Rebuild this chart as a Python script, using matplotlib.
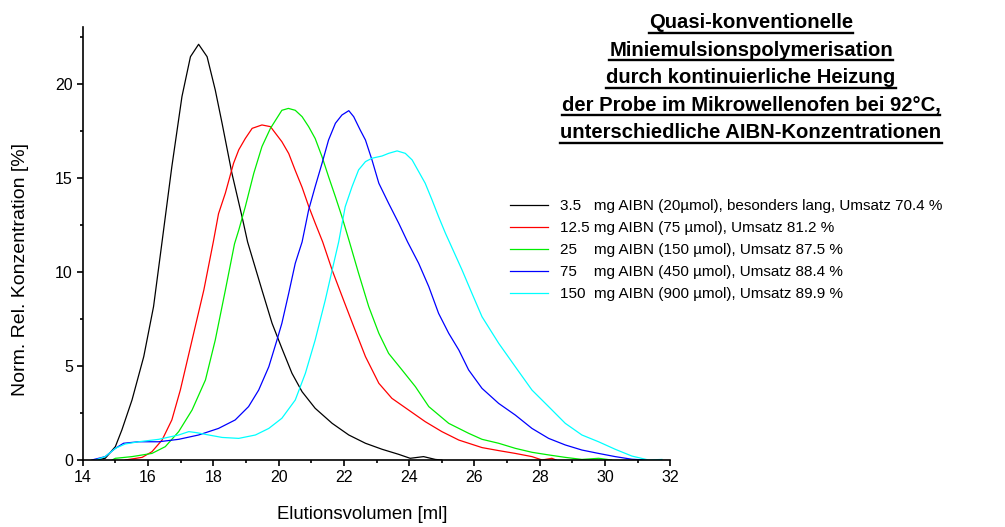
import matplotlib
matplotlib.use('Agg')
import matplotlib.pyplot as plt
from matplotlib.lines import Line2D
from matplotlib.ticker import MultipleLocator

# black: 3.5 mg AIBN
bx = [14.4, 14.69, 15.0, 15.2, 15.51, 15.87, 16.17, 16.43, 16.73, 17.04, 17.3, 17.55, 17.81, 18.06, 18.27, 18.57, 18.88, 19.05, 19.49, 19.8, 20.1, 20.41, 20.72, 21.12, 21.64, 22.15, 22.66, 23.17, 23.68, 24.03, 24.44, 24.8, 25.0]
by = [0, 0.09, 0.71, 1.6, 3.19, 5.5, 8.16, 11.6, 15.6, 19.33, 21.45, 22.11, 21.45, 19.68, 17.9, 15.25, 12.94, 11.6, 9.04, 7.27, 5.94, 4.61, 3.63, 2.75, 1.95, 1.33, 0.89, 0.57, 0.3, 0.09, 0.18, 0.03, 0]

# red: 12.5 mg AIBN
rx = [15.3, 15.82, 16.12, 16.43, 16.73, 16.99, 17.35, 17.71, 18.0, 18.16, 18.37, 18.62, 18.78, 18.98, 19.19, 19.49, 19.75, 20.1, 20.31, 20.51, 20.72, 20.92, 21.12, 21.35, 21.64, 21.99, 22.3, 22.66, 23.07, 23.47, 23.98, 24.49, 25.0, 25.52, 26.23, 26.74, 27.25, 27.76, 28.07, 28.37, 28.5]
ry = [0, 0.14, 0.44, 1.06, 2.13, 3.72, 6.38, 9.04, 11.6, 13.1, 14.2, 15.78, 16.5, 17.1, 17.64, 17.82, 17.73, 16.93, 16.3, 15.4, 14.5, 13.5, 12.6, 11.6, 10.1, 8.5, 7.1, 5.5, 4.08, 3.28, 2.66, 2.04, 1.51, 1.06, 0.66, 0.5, 0.35, 0.18, 0.0, 0.09, 0]

# green: 25 mg AIBN
gx = [14.9, 15.0, 15.51, 16.12, 16.53, 16.94, 17.35, 17.76, 18.06, 18.37, 18.65, 18.78, 18.98, 19.24, 19.49, 19.75, 20.1, 20.3, 20.51, 20.72, 20.92, 21.12, 21.33, 21.53, 21.74, 21.94, 22.17, 22.45, 22.76, 23.07, 23.37, 23.78, 24.19, 24.6, 25.21, 25.82, 26.23, 26.74, 27.25, 27.76, 28.27, 28.78, 29.29, 29.8, 30.2]
gy = [0, 0.09, 0.18, 0.35, 0.71, 1.51, 2.66, 4.26, 6.38, 9.04, 11.5, 12.23, 13.47, 15.25, 16.67, 17.64, 18.6, 18.7, 18.6, 18.26, 17.73, 17.1, 16.13, 15.07, 14.0, 12.94, 11.6, 9.93, 8.16, 6.74, 5.67, 4.79, 3.9, 2.84, 1.95, 1.42, 1.1, 0.89, 0.62, 0.41, 0.27, 0.14, 0.03, 0.09, 0]

# blue: 75 mg AIBN
ux = [14.28, 14.69, 15.0, 15.25, 15.71, 16.33, 16.94, 17.55, 18.16, 18.67, 19.08, 19.39, 19.7, 19.95, 20.1, 20.31, 20.51, 20.72, 20.92, 21.12, 21.33, 21.53, 21.74, 21.94, 22.15, 22.3, 22.5, 22.66, 22.86, 23.07, 23.37, 23.68, 23.95, 24.29, 24.6, 24.9, 25.21, 25.52, 25.82, 26.23, 26.74, 27.25, 27.76, 28.27, 28.78, 29.29, 29.8, 30.31, 30.82, 31.23]
uy = [0, 0.18, 0.62, 0.89, 0.97, 0.97, 1.1, 1.33, 1.68, 2.13, 2.84, 3.72, 4.96, 6.38, 7.27, 8.87, 10.46, 11.6, 13.3, 14.54, 15.78, 17.02, 17.91, 18.35, 18.58, 18.26, 17.55, 17.02, 15.96, 14.72, 13.65, 12.59, 11.6, 10.46, 9.22, 7.8, 6.74, 5.85, 4.79, 3.81, 3.01, 2.39, 1.68, 1.15, 0.8, 0.53, 0.35, 0.18, 0.04, 0]

# cyan: 150 mg AIBN
cx = [14.39, 14.69, 15.0, 15.3, 15.71, 16.33, 16.94, 17.25, 17.5, 17.86, 18.27, 18.78, 19.29, 19.7, 20.1, 20.51, 20.82, 21.12, 21.43, 21.64, 21.84, 22.04, 22.25, 22.45, 22.66, 22.86, 23.17, 23.37, 23.63, 23.88, 24.09, 24.29, 24.49, 24.7, 24.9, 25.11, 25.23, 25.62, 25.92, 26.23, 26.74, 27.25, 27.76, 28.27, 28.78, 29.29, 29.8, 30.31, 30.82, 31.33, 31.74]
cy = [0, 0.18, 0.62, 0.85, 0.97, 1.1, 1.33, 1.51, 1.45, 1.33, 1.2, 1.15, 1.33, 1.68, 2.22, 3.19, 4.61, 6.38, 8.51, 10.1, 11.6, 13.47, 14.54, 15.43, 15.87, 16.05, 16.17, 16.31, 16.44, 16.31, 15.96, 15.34, 14.72, 13.83, 12.94, 12.06, 11.6, 10.1, 8.87, 7.62, 6.21, 4.96, 3.72, 2.84, 1.95, 1.33, 0.97, 0.57, 0.21, 0, 0.03]

labels = ["3.5   mg AIBN (20\u00b5mol), besonders lang, Umsatz 70.4 %",
          "12.5 mg AIBN (75 \u00b5mol), Umsatz 81.2 %",
          "25    mg AIBN (150 \u00b5mol), Umsatz 87.5 %",
          "75    mg AIBN (450 \u00b5mol), Umsatz 88.4 %",
          "150  mg AIBN (900 \u00b5mol), Umsatz 89.9 %"]
colors = ['#000000', '#ff0000', '#00ee00', '#0000ff', '#00ffff']

title_lines = ["Quasi-konventionelle",
               "Miniemulsionspolymerisation",
               "durch kontinuierliche Heizung",
               "der Probe im Mikrowellenofen bei 92\u00b0C,",
               "unterschiedliche AIBN-Konzentrationen"]

plt.rcParams['font.family'] = ['Liberation Sans', 'DejaVu Sans']

W, H = 1005, 527
fig = plt.figure(figsize=(W / 100, H / 100), dpi=100)
ax = fig.add_axes([82.7 / W, 1 - 460 / H, (670.4 - 82.7) / W, (460 - 27) / H])

series = [(bx, by), (rx, ry), (gx, gy), (ux, uy), (cx, cy)]
for (x, y), c, lab in zip(series, colors, labels):
    ax.plot(x, y, color=c, lw=0.9, label=lab)

ax.set_xlim(14, 32)
ax.set_ylim(0, 23.03)
ax.xaxis.set_major_locator(MultipleLocator(2))
ax.xaxis.set_minor_locator(MultipleLocator(1))
ax.yaxis.set_major_locator(MultipleLocator(5))
ax.yaxis.set_minor_locator(MultipleLocator(2.5))
for s in ['top', 'right']:
    ax.spines[s].set_visible(False)
for s in ['left', 'bottom']:
    ax.spines[s].set_linewidth(1.2)
ax.tick_params(which='major', direction='out', length=4, width=1.2, labelsize=11.5, pad=3)
ax.tick_params(which='minor', direction='out', length=2.5, width=1.2)
ax.set_xlabel("Elutionsvolumen [ml]", fontsize=13.3)
ax.set_ylabel("Norm. Rel. Konzentration [%]", fontsize=14)
ax.xaxis.set_label_coords((362 - 82.7) / 587.7, (460 - 506) / 433)
ax.yaxis.set_label_coords((29 - 82.7) / 587.7, (460 - 270) / 433)

fig.legend(loc='upper left', bbox_to_anchor=(510 / W, 1 - 199 / H), frameon=False,
           fontsize=11, handlelength=2.5, handletextpad=0.8, labelspacing=0.53,
           borderpad=0, borderaxespad=0)

baselines = [28, 55.5, 83, 110.5, 138]
texts = []
for line, yb in zip(title_lines, baselines):
    t = fig.text(751 / W, 1 - yb / H, line, ha='center', va='baseline',
                 fontsize=14.6, fontweight='bold')
    texts.append((t, yb))

fig.canvas.draw()
r = fig.canvas.get_renderer()
for t, yb in texts:
    bb = t.get_window_extent(r)
    yu = 1 - (yb + 4.5) / H
    fig.add_artist(Line2D([bb.x0 / W, bb.x1 / W], [yu, yu], transform=fig.transFigure,
                          color='black', lw=1.7))

fig.savefig('out.png', dpi=100)
